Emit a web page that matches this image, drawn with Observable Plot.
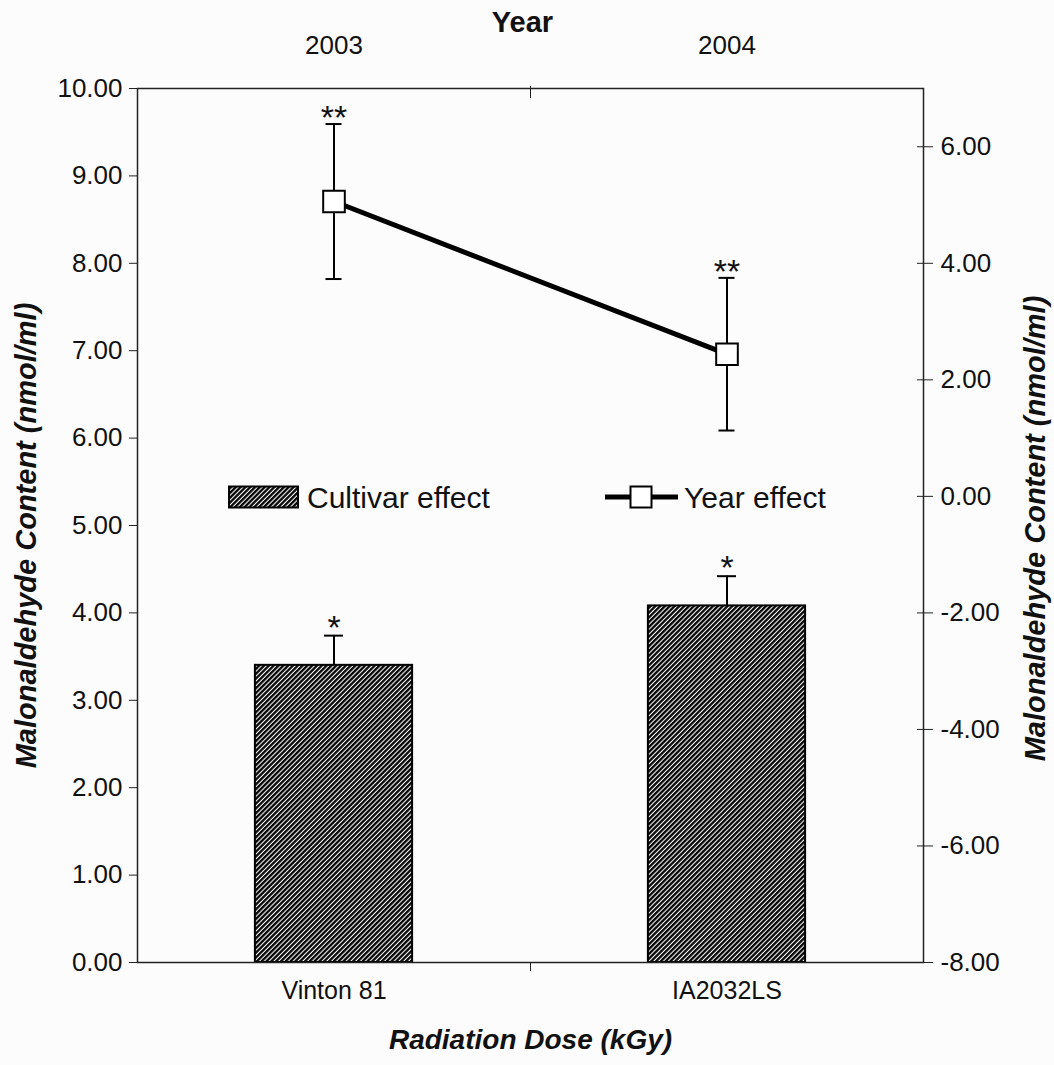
<!DOCTYPE html>
<html><head><meta charset="utf-8">
<script src="https://cdn.jsdelivr.net/npm/d3@7"></script>
<script src="https://cdn.jsdelivr.net/npm/@observablehq/plot@0.6"></script>
<style>
body{margin:0;background:#fcfcfc;}
#wrap{width:1054px;height:1065px;}
</style></head><body><div id="wrap"></div>
<script>
// ---- data ----
const cultivars = ["Vinton 81", "IA2032LS"];
const cultivarMeans = [3.40, 4.08];      // left axis units
const cultivarErrors = [0.34, 0.34];
const cultivarSig = ["*", "*"];
const years = ["2003", "2004"];
const yearMeans = [5.06, 2.44];          // right axis units
const yearErrors = [1.33, 1.31];
const yearSig = ["**", "**"];
const leftTicks = [0, 1, 2, 3, 4, 5, 6, 7, 8, 9, 10];
const rightTicks = [-8, -6, -4, -2, 0, 2, 4, 6];
const leftDomain = [0, 10];
const rightDomain = [-8, 7];
const legendLabels = ["Cultivar effect", "Year effect"];
const yTitle = "Malonaldehyde Content (nmol/ml)";
const xTitle = "Radiation Dose (kGy)";
const topTitle = "Year";

// ---- layout ----
const W = 1054, H = 1065;
const mL = 137, mR = 131, mT = 88, mB = 103;
const pxPerX = (W - mL - mR) / 2;
const FONT = "'Liberation Sans', Arial, sans-serif";

const toLeft = r => (r - rightDomain[0]) / (rightDomain[1] - rightDomain[0]) * (leftDomain[1] - leftDomain[0]) + leftDomain[0];
const fromLeft = l => (l - leftDomain[0]) / (leftDomain[1] - leftDomain[0]) * (rightDomain[1] - rightDomain[0]) + rightDomain[0];

const bars = cultivars.map((c, i) => ({name: c, pos: i + 0.5, mean: cultivarMeans[i], hi: cultivarMeans[i] + cultivarErrors[i], sig: cultivarSig[i]}));
const yrs = years.map((y, i) => ({year: y, pos: i + 0.5, mean: toLeft(yearMeans[i]), lo: toLeft(yearMeans[i] - yearErrors[i]), hi: toLeft(yearMeans[i] + yearErrors[i]), sig: yearSig[i]}));

const barHalf = 0.2;
const barCap = 9.5 / pxPerX;
const yrCap = 8 / pxPerX;

const chart = Plot.plot({
  width: W, height: H,
  marginLeft: mL, marginRight: mR, marginTop: mT, marginBottom: mB,
  style: {background: "transparent", fontFamily: FONT, color: "#111"},
  x: {domain: [0, 2]},
  y: {domain: leftDomain},
  marks: [
    Plot.rectY(bars, {x1: d => d.pos - barHalf, x2: d => d.pos + barHalf, y1: 0, y2: "mean", fill: "url(#hatch)", stroke: "#000", strokeWidth: 2}),
    Plot.ruleX(bars, {x: "pos", y1: "mean", y2: "hi", stroke: "#000", strokeWidth: 2}),
    Plot.ruleY(bars, {y: "hi", x1: d => d.pos - barCap, x2: d => d.pos + barCap, stroke: "#000", strokeWidth: 2}),
    Plot.text(bars, {x: "pos", y: "hi", text: "sig", fontSize: 34, lineAnchor: "bottom", dy: 3, fill: "#111"}),

    Plot.ruleX(yrs, {x: "pos", y1: "lo", y2: "hi", stroke: "#000", strokeWidth: 2}),
    Plot.ruleY(yrs, {y: "hi", x1: d => d.pos - yrCap, x2: d => d.pos + yrCap, stroke: "#000", strokeWidth: 2}),
    Plot.ruleY(yrs, {y: "lo", x1: d => d.pos - yrCap, x2: d => d.pos + yrCap, stroke: "#000", strokeWidth: 2}),
    Plot.line(yrs, {x: "pos", y: "mean", stroke: "#000", strokeWidth: 5}),
    Plot.dot(yrs, {x: "pos", y: "mean", symbol: "square", r: 12.2, fill: "#fff", stroke: "#000", strokeWidth: 2}),
    Plot.text(yrs, {x: "pos", y: "hi", text: "sig", fontSize: 34, lineAnchor: "bottom", dy: 5, fill: "#111"}),

    Plot.frame({stroke: "#222", strokeWidth: 1.5}),

    // left axis
    Plot.axisY({anchor: "left", ticks: leftTicks, tickFormat: d => d.toFixed(2), tickSize: 8, tickPadding: 7, fontSize: 26, label: null, stroke: "#222"}),
    // right axis
    Plot.axisY({anchor: "right", ticks: rightTicks.map(toLeft), tickFormat: d => (Math.round(fromLeft(d) * 100) / 100).toFixed(2), tickSize: 16, dx: -7, tickPadding: 8, fontSize: 26, label: null, stroke: "#222"}),
    // bottom
    Plot.axisX({anchor: "bottom", ticks: [1], tickSize: 9, tickFormat: () => "", label: null, stroke: "#222"}),
    Plot.axisX({anchor: "bottom", ticks: bars.map(d => d.pos), tickSize: 0, tickPadding: 19, tickFormat: (d) => cultivars[Math.floor(d)], fontSize: 25, label: null}),
    // top
    Plot.axisX({anchor: "top", ticks: [1], tickSize: 12, dy: 9, tickFormat: () => "", label: null, stroke: "#222"}),
    Plot.axisX({anchor: "top", ticks: yrs.map(d => d.pos), tickSize: 0, tickPadding: 35, tickFormat: (d) => years[Math.floor(d)], fontSize: 26, label: null}),

    // titles
    Plot.text([yTitle], {frameAnchor: "left", text: d => d, rotate: -90, textAnchor: "middle", lineAnchor: "middle", dx: -111, dy: 10, fontSize: 29, fontWeight: "bold", fontStyle: "italic", fill: "#111"}),
    Plot.text([yTitle], {frameAnchor: "right", text: d => d, rotate: -90, textAnchor: "middle", lineAnchor: "middle", dx: 112, dy: 3, fontSize: 29, fontWeight: "bold", fontStyle: "italic", fill: "#111"}),
    Plot.text([xTitle], {frameAnchor: "bottom", text: d => d, textAnchor: "middle", lineAnchor: "middle", dy: 78, fontSize: 28, fontWeight: "bold", fontStyle: "italic", fill: "#111"}),
    Plot.text([topTitle], {frameAnchor: "top", text: d => d, textAnchor: "middle", lineAnchor: "middle", dx: -8, dy: -66, fontSize: 29, fontWeight: "bold", fill: "#111"})
  ]
});

// hatch pattern + legend
const svg = d3.select(chart);
const defs = svg.insert("defs", ":first-child");
const pat = defs.append("pattern").attr("id", "hatch").attr("patternUnits", "userSpaceOnUse")
  .attr("width", 3.4).attr("height", 3.4).attr("patternTransform", "rotate(45)");
pat.append("rect").attr("width", 3.4).attr("height", 3.4).attr("fill", "#fff");
pat.append("line").attr("x1", 1.2).attr("y1", 0).attr("x2", 1.2).attr("y2", 3.4).attr("stroke", "#000").attr("stroke-width", 2.3);

const lg = svg.append("g").attr("font-family", FONT).attr("font-size", 30).attr("fill", "#111").attr("text-anchor", "start");
const ly = 497;
lg.append("rect").attr("x", 229).attr("y", ly - 10.5).attr("width", 69).attr("height", 21).attr("fill", "url(#hatch)").attr("stroke", "#000").attr("stroke-width", 2);
lg.append("text").attr("x", 307).attr("y", ly).attr("dy", "0.35em").text(legendLabels[0]);
lg.append("line").attr("x1", 605).attr("x2", 678).attr("y1", ly).attr("y2", ly).attr("stroke", "#000").attr("stroke-width", 5);
lg.append("rect").attr("x", 641 - 10.5).attr("y", ly - 10.5).attr("width", 21).attr("height", 21).attr("fill", "#fff").attr("stroke", "#000").attr("stroke-width", 2);
lg.append("text").attr("x", 684).attr("y", ly).attr("dy", "0.35em").text(legendLabels[1]);

document.getElementById("wrap").appendChild(chart);
</script></body></html>
